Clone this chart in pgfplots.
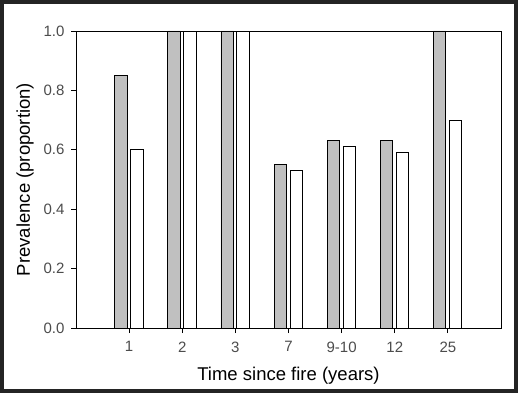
\documentclass[border=0pt]{standalone}
\usepackage{fontspec}
\setmainfont{Liberation Sans}
\usepackage{pgfplots}
\pgfplotsset{compat=1.18}
\definecolor{bargray}{RGB}{192,192,192}
\definecolor{framegray}{RGB}{36,36,36}

\begin{document}
\begin{tikzpicture}
% outer frame, 1pt = 1px of the reference
\fill[white] (0,0) rectangle (518pt,393pt);
\draw[framegray, line width=4pt] (2pt,2pt) rectangle (516pt,391pt);
\begin{axis}[
    at={(76pt,65pt)}, anchor=south west,
    scale only axis,
    width=425pt, height=297pt,
    xmin=0, xmax=8,
    ymin=0, ymax=1,
    xtick={1,...,7},
    xticklabels={1,2,3,7,9-10,12,25},
    ytick={0,0.2,0.4,0.6,0.8,1.0},
    /pgf/number format/assume math mode=true,
    yticklabel style={/pgf/number format/.cd, fixed, fixed zerofill, precision=1, /tikz/.cd, xshift=-3pt},
    xticklabel style={yshift=-5pt},
    ticklabel style={font=\fontsize{15}{17}\selectfont, text=black!70},
    tick pos=left,
    tick align=outside,
    major tick length=5pt,
    tick style={black, line width=0.8pt},
    axis line style={line width=0.9pt},
    xlabel={Time since fire (years)},
    ylabel={Prevalence (proportion)},
    label style={font=\fontsize{18.5}{20}\selectfont},
    xlabel style={at={(axis description cs:0.5,0)}, anchor=center, yshift=-48pt},
    ylabel style={at={(axis description cs:0,0.5)}, anchor=center, yshift=51pt},
    clip=true,
]
\addplot[ybar, bar width=0.233, bar shift=-0.155, fill=bargray, draw=black, line width=0.8pt]
coordinates {(1,0.85) (2,1.0) (3,1.0) (4,0.55) (5,0.63) (6,0.63) (7,1.0)};
\addplot[ybar, bar width=0.233, bar shift=0.145, fill=white, draw=black, line width=0.8pt]
coordinates {(1,0.60) (2,1.0) (3,1.0) (4,0.53) (5,0.61) (6,0.59) (7,0.70)};
\end{axis}
\end{tikzpicture}
\end{document}
